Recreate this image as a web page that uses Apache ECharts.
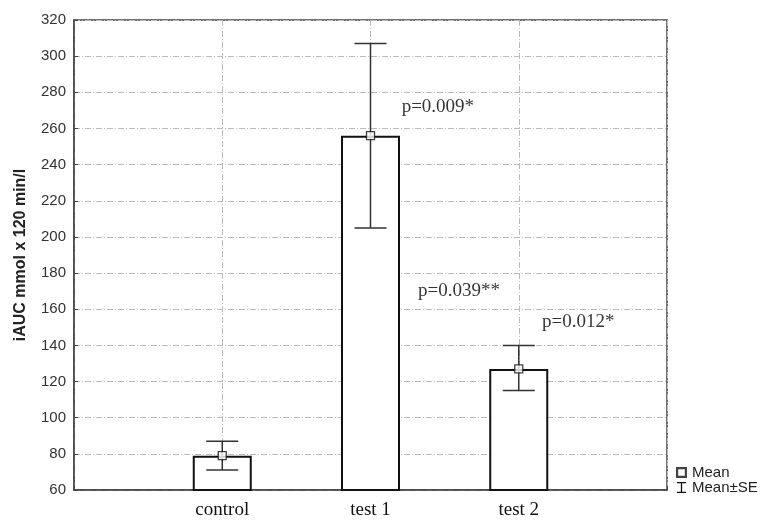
<!DOCTYPE html>
<html><head><meta charset="utf-8">
<script src="https://cdn.jsdelivr.net/npm/echarts@6/dist/echarts.min.js"></script>
<style>html,body{margin:0;padding:0;background:#fff}#c{width:764px;height:520px}</style>
</head><body><div id="c"></div>
<script>
var categories = ['', 'control', 'test 1', 'test 2', ''];
var means = [79, 256, 127];
var seUpper = [87, 307, 140];
var seLower = [71, 205, 115];
var notes = [
  {text: 'p=0.009*', x: 2.21, y: 272},
  {text: 'p=0.039**', x: 2.32, y: 170},
  {text: 'p=0.012*', x: 3.157, y: 153}
];
var yTicks = {min: 60, max: 320, interval: 20};

var chart = echarts.init(document.getElementById('c'));
var barData = means.map(function(v, i){ return [i + 1, v]; });
var errData = means.map(function(v, i){ return [i + 1, seLower[i], seUpper[i]]; });
var serif = 'Liberation Serif, Times New Roman, serif';
var sans = 'Liberation Sans, Arial, sans-serif';

chart.setOption({
  animation: false,
  grid: {left: 74, right: 97, top: 20, bottom: 27, show: true, borderColor: '#444', borderWidth: 1.5},
  legend: {
    orient: 'vertical', left: 671, top: 460, itemGap: 0, itemWidth: 11, itemHeight: 11,
    textStyle: {fontFamily: sans, fontSize: 15, color: '#222'},
    data: [
      {name: 'Mean', icon: 'path://M0,0H10V10H0Z M2,2V8H8V2Z', itemStyle: {color: '#111', borderWidth: 0}},
      {name: 'Mean±SE', icon: 'path://M0,0H10V1.4H5.7V10.6H10V12H0V10.6H4.3V1.4H0Z', itemStyle: {color: '#111', borderWidth: 0}}
    ]
  },
  xAxis: [{
    type: 'category', data: categories, boundaryGap: false,
    axisLine: {show: true, lineStyle: {color: '#444', width: 1.5}},
    axisTick: {show: true, inside: true, length: 4, lineStyle: {color: '#444'}, interval: 0},
    axisLabel: {interval: 0, margin: 11, fontFamily: serif, fontSize: 19, color: '#111'},
    splitLine: {show: true, lineStyle: {color: '#bbb', type: [6, 2, 1, 2], width: 1}}
  }, {
    type: 'value', min: 0, max: 4, show: false
  }],
  yAxis: {
    type: 'value', min: yTicks.min, max: yTicks.max, interval: yTicks.interval,
    name: 'iAUC mmol x 120 min/l', nameLocation: 'middle', nameGap: 45,
    nameTextStyle: {fontFamily: sans, fontWeight: 'bold', fontSize: 16, color: '#222'},
    axisLine: {show: true, lineStyle: {color: '#444', width: 1.5}},
    axisTick: {show: true, inside: true, length: 4, lineStyle: {color: '#444'}},
    axisLabel: {margin: 8, fontFamily: sans, fontSize: 15, color: '#333'},
    splitLine: {show: true, lineStyle: {color: '#bbb', type: [6, 2, 1, 2], width: 1}}
  },
  series: [
    {
      type: 'bar', name: 'bars', data: barData, barWidth: 59,
      itemStyle: {color: '#fff', borderColor: '#111', borderWidth: 2}, z: 2
    },
    {
      type: 'custom', name: 'Mean±SE', data: errData, z: 3,
      renderItem: function(params, api){
        var x = api.value(0);
        var lo = api.coord([x, api.value(1)]);
        var hi = api.coord([x, api.value(2)]);
        var hw = 16;
        var st = {stroke: '#333', lineWidth: 1.5};
        return {type: 'group', children: [
          {type: 'line', shape: {x1: lo[0], y1: lo[1], x2: hi[0], y2: hi[1]}, style: st},
          {type: 'line', shape: {x1: hi[0]-hw, y1: hi[1], x2: hi[0]+hw, y2: hi[1]}, style: st},
          {type: 'line', shape: {x1: lo[0]-hw, y1: lo[1], x2: lo[0]+hw, y2: lo[1]}, style: st}
        ]};
      },
      itemStyle: {color: '#111'}
    },
    {
      type: 'scatter', name: 'Mean', data: barData, symbol: 'rect', symbolSize: 8, z: 4,
      itemStyle: {color: '#fff', borderColor: '#111', borderWidth: 1.3}
    },
    {
      type: 'scatter', name: 'notes', xAxisIndex: 1, symbolSize: 0, z: 5,
      data: notes.map(function(n){ return {value: [n.x, n.y], label: {formatter: n.text}}; }),
      label: {show: true, position: 'right', distance: 0, fontFamily: serif, fontSize: 19, color: '#000'}
    }
  ]
});
</script></body></html>
